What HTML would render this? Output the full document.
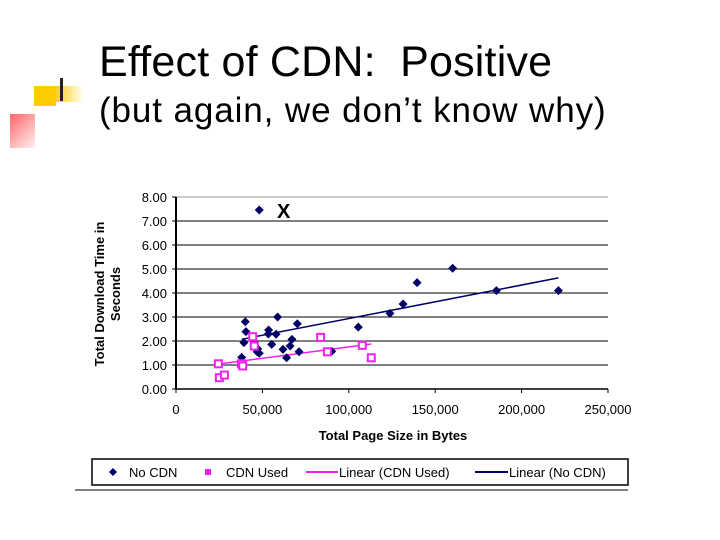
<!DOCTYPE html>
<html><head><meta charset="utf-8"><style>
body{margin:0;background:#fff;width:720px;height:540px;overflow:hidden;position:relative;font-family:"Liberation Sans",sans-serif}
#t1{position:absolute;left:99px;top:38px;font-size:43px;color:#000;white-space:nowrap;letter-spacing:0.2px}
#t2{position:absolute;left:99px;top:91px;font-size:35px;color:#000;white-space:nowrap;letter-spacing:0.9px}
</style></head><body>
<div style="position:absolute;left:34px;top:86px;width:22px;height:20px;background:#fc0"></div>
<div style="position:absolute;left:54px;top:86px;width:30px;height:16px;background:linear-gradient(90deg,#fc0,rgba(255,204,0,0))"></div>
<div style="position:absolute;left:10px;top:114px;width:25px;height:34px;background:linear-gradient(135deg,#f66,rgba(255,120,120,0.1))"></div>
<div style="position:absolute;left:60px;top:78px;width:3px;height:23px;background:#222"></div>
<div id="t1">Effect of CDN:&nbsp; Positive</div>
<div id="t2">(but again, we don’t know why)</div>
<svg id="chart" width="720" height="540" style="position:absolute;left:0;top:0" font-family="Liberation Sans, sans-serif"></svg>
<script>
const noCdnX=[48200,40100,40500,39300,38000,47300,48200,47000,53600,53400,57900,58800,55400,61900,64000,66000,67100,70200,71200,90100,105500,123800,131400,139500,160100,185400,221300];
const noCdnY=[7.46,2.80,2.39,1.93,1.32,1.67,1.49,1.55,2.46,2.29,2.28,3.00,1.86,1.65,1.30,1.79,2.07,2.72,1.55,1.57,2.58,3.15,3.54,4.43,5.03,4.10,4.10];
const cdnX=[24500,25100,28000,37800,38600,44400,45300,83700,87600,107800,113000];
const cdnY=[1.05,0.47,0.58,1.05,0.96,2.18,1.79,2.15,1.55,1.82,1.30];
const xTicks=[0,50000,100000,150000,200000,250000];
const yTicks=[0,1,2,3,4,5,6,7,8];
const NS="http://www.w3.org/2000/svg";
const svg=document.getElementById('chart');
const X0=176,X1=608,Y0=389,Y1=197;
const sx=v=>X0+(v/250000)*(X1-X0);
const sy=v=>Y0-(v/8)*(Y0-Y1);
function mk(tag,attrs,parent){const e=document.createElementNS(NS,tag);for(const k in attrs)e.setAttribute(k,attrs[k]);(parent||svg).appendChild(e);return e;}
yTicks.forEach(v=>{
  const l=mk('line',{x1:X0,x2:X1,y1:sy(v),y2:sy(v),stroke:v==8?'#999':'#000','stroke-width':1});
  
  
  const tk=mk('line',{x1:X0-4,x2:X0,y1:sy(v),y2:sy(v),stroke:'#000'});
  
  
  const t=mk('text',{x:X0-9,y:sy(v)+5,'font-size':13,'text-anchor':'end'});
  t.textContent=v.toFixed(2);
  
  
});
xTicks.forEach(v=>{
  const tk=mk('line',{x1:sx(v),x2:sx(v),y1:Y0,y2:Y0+4,stroke:'#000'});
  
  
  const t=mk('text',{x:sx(v),y:Y0+25,'font-size':13,'text-anchor':'middle'});
  t.textContent=v.toLocaleString('en-US');
  
  
});
let ax=mk('line',{x1:X0,x2:X0,y1:Y1,y2:Y0,stroke:'#000','stroke-width':2});


ax=mk('line',{x1:X0,x2:X1,y1:Y0,y2:Y0,stroke:'#000','stroke-width':1.5});


function fit(xs,ys){const n=xs.length;let mx=0,my=0;xs.forEach((x,i)=>{mx+=x;my+=ys[i];});mx/=n;my/=n;let a=0,b=0;xs.forEach((x,i)=>{a+=(x-mx)*(ys[i]-my);b+=(x-mx)*(x-mx);});const s=a/b;return[s,my-s*mx];}
function trend(xs,ys,color,name){const[s,c]=fit(xs,ys);const a=Math.min(...xs),b=Math.max(...xs);
  const l=mk('line',{x1:sx(a),y1:sy(s*a+c),x2:sx(b),y2:sy(s*b+c),stroke:color,'stroke-width':1.5});
  
  }
trend(noCdnX,noCdnY,'#000066','trendline-no-cdn');
trend(cdnX,cdnY,'#ee22ee','trendline-cdn-used');
noCdnX.forEach((x,i)=>{const cx=sx(x),cy=sy(noCdnY[i]);
  const p=mk('polygon',{points:`${cx},${cy-4.5} ${cx+4.5},${cy} ${cx},${cy+4.5} ${cx-4.5},${cy}`,fill:'#000066'});
  
  });
cdnX.forEach((x,i)=>{const cx=sx(x),cy=sy(cdnY[i]);
  const p=mk('rect',{x:cx-3.5,y:cy-3.5,width:7,height:7,fill:'#fff',stroke:'#ee22ee','stroke-width':2});
  
  });
let t=mk('text',{x:277,y:218,'font-size':20,'font-weight':'bold'});t.textContent='X';


t=mk('text',{x:393,y:440,'font-size':13,'font-weight':'bold','text-anchor':'middle'});t.textContent='Total Page Size in Bytes';


const yt=mk('g',{transform:'translate(104,294) rotate(-90)'});


let t1=mk('text',{x:0,y:0,'font-size':13,'font-weight':'bold','text-anchor':'middle'},yt);t1.textContent='Total Download Time in';
let t2=mk('text',{x:0,y:16,'font-size':13,'font-weight':'bold','text-anchor':'middle'},yt);t2.textContent='Seconds';
const lg=mk('g',{});


mk('rect',{x:92,y:459,width:536,height:26,fill:'#fff',stroke:'#000','stroke-width':1.5},lg);
mk('polygon',{points:'113,468 117,472 113,476 109,472',fill:'#000066'},lg);
let e=mk('text',{x:129,y:477,'font-size':13},lg);e.textContent='No CDN';


mk('rect',{x:205,y:469,width:6,height:6,fill:'#ee22ee'},lg);
e=mk('text',{x:226,y:477,'font-size':13},lg);e.textContent='CDN Used';


mk('line',{x1:306,x2:338,y1:472,y2:472,stroke:'#ee22ee','stroke-width':2},lg);
e=mk('text',{x:339,y:477,'font-size':13},lg);e.textContent='Linear (CDN Used)';


mk('line',{x1:475,x2:508,y1:472,y2:472,stroke:'#000066','stroke-width':2},lg);
e=mk('text',{x:509,y:477,'font-size':13},lg);e.textContent='Linear (No CDN)';


const ul=mk('line',{x1:75,x2:628,y1:490,y2:490,stroke:'#000','stroke-width':1});


</script>
</body></html>
